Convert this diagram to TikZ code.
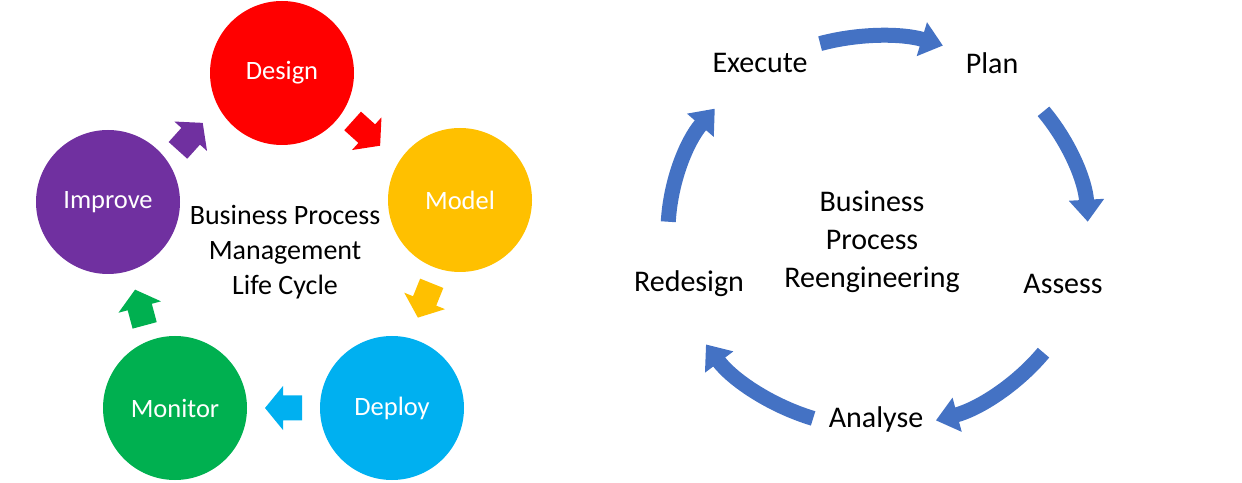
\documentclass[tikz,border=0pt]{standalone}
\usepackage{fontspec}
\setmainfont{Carlito}
\usetikzlibrary{arrows.meta}
\definecolor{cred}{HTML}{FF0000}
\definecolor{cyel}{HTML}{FFC000}
\definecolor{cblu}{HTML}{00B0F0}
\definecolor{cgrn}{HTML}{00B050}
\definecolor{cpur}{HTML}{7030A0}
\definecolor{acc}{HTML}{4472C4}
\begin{document}
\begin{tikzpicture}[x=1pt,y=1pt,
  stage/.style={circle,minimum size=144pt,inner sep=0pt,text=white,font=\fontsize{26.5}{30}\selectfont},
  lbl/.style={font=\fontsize{28}{35}\selectfont,align=center},
  rlbl/.style={font=\fontsize{30}{38}\selectfont,align=center},
  blk/.pic={\fill[pic actions] (-18,-12.5)--(1,-12.5)--(1,-22)--(19,0)--(1,22)--(1,12.5)--(-18,12.5)--cycle;},
  cyc/.style={acc,line width=15pt,-{Triangle[width=34pt,length=22pt]}}]
\useasboundingbox (0,0) rectangle (1242,482);
\node[stage,fill=cred] (design) at (282,409) {Design};
\node[stage,fill=cyel] (model) at (460,282) {Model};
\node[stage,fill=cblu] (deploy) at (392,74) {Deploy};
\node[stage,fill=cgrn] (monitor) at (175,74) {Monitor};
\node[stage,fill=cpur] (improve) at (108,280) {Improve};
\node[lbl] (bpm) at (285,230) {Business Process\\Management\\Life Cycle};
\pic[fill=cred,rotate=-42] at (366,349) {blk};
\pic[fill=cyel,rotate=-112] at (425,182) {blk};
\pic[fill=cblu,rotate=180] at (284,74) {blk};
\pic[fill=cgrn,rotate=105] at (140,174) {blk};
\pic[fill=cpur,rotate=48] at (190,345) {blk};
% right
\coordinate (c) at (878,250);
\node[rlbl] (bpr) at (872,240) {Business\\Process\\Reengineering};
\node[rlbl] (execute) at (760,419) {Execute};
\node[rlbl] (plan) at (992,419) {Plan};
\node[rlbl] (assess) at (1063,198) {Assess};
\node[rlbl] (analyse) at (876,62) {Analyse};
\node[rlbl] (redesign) at (689,198) {Redesign};
\draw[cyc] (c) ++(106:210 and 196) arc[start angle=106,end angle=72,x radius=210,y radius=196];
\draw[cyc] (c) ++(38:210 and 196) arc[start angle=38,end angle=3,x radius=210,y radius=196];
\draw[cyc] (c) ++(-38:210 and 196) arc[start angle=-38,end angle=-74,x radius=210,y radius=196];
\draw[cyc] (c) ++(-108:210 and 196) arc[start angle=-108,end angle=-145,x radius=210,y radius=196];
\draw[cyc] (c) ++(177:210 and 196) arc[start angle=177,end angle=141,x radius=210,y radius=196];
\end{tikzpicture}
\end{document}
